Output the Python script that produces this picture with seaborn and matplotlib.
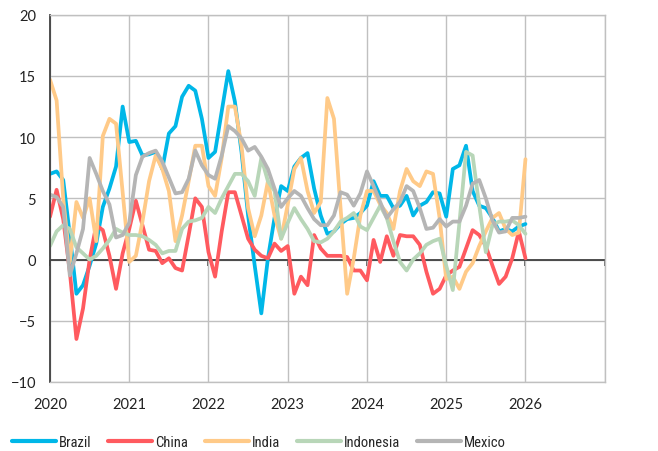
import numpy as np
import pandas as pd
import seaborn as sns
import matplotlib.pyplot as plt

# Monthly values, Jan 2020 - Jan 2026
countries = ['Brazil', 'China', 'India', 'Indonesia', 'Mexico']
colors = ['#00B7E8', '#FF5A5F', '#FFCA88', '#B8D6B8', '#B5B5B5']

brazil = [
    7.0, 7.2, 6.5, 2.0, -2.8, -2.1, -0.5, 1.3, 4.3, 5.8, 7.6, 12.5,
    9.6, 9.7, 8.5, 8.6, 8.8, 7.4, 10.3, 10.9, 13.3, 14.2, 13.8, 11.5,
    8.3, 8.8, 12.1, 15.4, 12.9, 8.8, 3.6, -0.5, -4.4, 0.1, 3.4, 6.0,
    5.6, 7.6, 8.3, 8.7, 5.8, 3.6, 2.1, 2.3, 2.9, 3.3, 3.4, 3.8,
    4.4, 6.4, 5.2, 5.2, 4.2, 4.4, 5.2, 3.6, 4.4, 4.7, 5.5, 5.4,
    3.5, 7.4, 7.7, 9.3, 5.6, 4.4, 4.2, 3.4, 2.3, 2.5, 2.3, 2.7,
    2.9]
china = [
    3.5, 5.7, 3.3, -1.0, -6.5, -4.0, 0.0, 2.8, 2.4, 0.3, -2.4, 0.5,
    2.5, 4.8, 2.8, 0.8, 0.7, -0.3, 0.1, -0.7, -0.9, 2.0, 5.0, 4.3,
    0.6, -1.4, 2.3, 5.5, 5.5, 3.6, 1.7, 0.8, 0.3, 0.1, 1.3, 0.7,
    1.1, -2.8, -1.4, -2.1, 2.0, 0.9, 0.3, 0.3, 0.3, 0.2, -0.9, -0.9,
    -1.7, 1.6, -0.2, 1.9, 0.3, 2.0, 1.9, 1.9, 1.2, -1.0, -2.8, -2.4,
    -1.3, -0.9, -0.6, 0.9, 2.4, 2.0, 1.1, -0.5, -2.0, -1.4, 0.1, 2.3,
    0.1]
india = [
    14.7, 13.0, 5.0, -0.2, 4.7, 3.4, 5.0, 1.5, 10.1, 11.5, 11.1, 5.5,
    -0.2, 0.3, 3.1, 6.4, 8.5, 7.4, 5.6, 1.5, 3.6, 6.4, 9.3, 9.3,
    6.0, 5.2, 8.3, 12.5, 12.5, 9.3, 4.2, 1.9, 3.6, 6.4, 3.6, 1.7,
    4.5, 7.4, 8.3, 5.6, 3.8, 4.7, 13.2, 11.5, 4.2, -2.8, 0.1, 3.6,
    5.6, 5.6, 4.5, 3.8, 2.5, 5.6, 7.4, 6.4, 6.0, 7.2, 7.0, 3.4,
    -1.6, -1.4, -2.4, -1.0, -0.3, 1.1, 2.3, 3.4, 3.8, 2.5, 2.0, 2.2,
    8.2]
indonesia = [
    1.1, 2.3, 2.8, 2.5, 1.0, 0.5, 0.0, 0.3, 0.9, 1.6, 2.5, 2.2,
    2.0, 2.0, 1.9, 1.6, 1.2, 0.5, 0.7, 0.7, 2.5, 3.1, 3.2, 3.4,
    4.3, 3.8, 5.0, 6.0, 7.0, 7.0, 6.4, 5.2, 8.3, 6.4, 5.6, 1.7,
    3.0, 4.2, 3.3, 2.5, 1.5, 1.4, 1.7, 2.3, 3.1, 3.4, 3.8, 2.7,
    2.4, 3.4, 4.4, 3.4, 1.5, -0.2, -0.9, 0.0, 0.5, 1.2, 1.5, 1.7,
    -0.5, -2.5, 3.0, 8.8, 8.5, 4.4, 0.6, 2.8, 3.1, 3.1, 3.2, 2.8,
    2.1]
mexico = [
    5.3, 5.1, 4.3, -1.3, 0.5, 2.5, 8.3, 7.0, 5.6, 4.5, 1.8, 2.0,
    3.0, 6.9, 8.4, 8.7, 8.9, 8.0, 6.7, 5.4, 5.5, 6.6, 8.9, 7.7,
    6.9, 6.6, 8.5, 10.9, 10.5, 9.9, 8.9, 9.2, 8.4, 7.4, 5.8, 4.3,
    5.0, 5.6, 5.2, 4.2, 3.3, 2.8, 2.8, 3.6, 5.5, 5.3, 4.4, 5.4,
    7.2, 6.0, 4.7, 3.4, 4.1, 4.7, 6.0, 5.6, 4.2, 2.5, 2.6, 3.3,
    2.7, 3.1, 3.1, 4.4, 6.2, 6.5, 5.0, 3.2, 2.2, 2.3, 3.4, 3.4,
    3.5]

years = list(range(2020, 2028))
year_labels = ['2020', '2021', '2022', '2023', '2024', '2025', '2026', '']

x = 2020 + np.arange(len(brazil)) / 12
df = pd.DataFrame({'x': x, 'Brazil': brazil, 'China': china, 'India': india,
                   'Indonesia': indonesia, 'Mexico': mexico})
long = df.melt(id_vars='x', var_name='country', value_name='value')

sns.set_style('white')
plt.rcParams['font.family'] = ['Lato', 'DejaVu Sans']

fig = plt.figure(figsize=(6.58, 4.52), dpi=100)
ax = fig.add_axes([0.076, 0.153, 0.843, 0.812])

sns.lineplot(data=long, x='x', y='value', hue='country', hue_order=countries,
             palette=dict(zip(countries, colors)), linewidth=2.7, ax=ax, legend=False)

grid = '#C0C0C0'
ax.set_xlim(2020, 2027)
ax.set_ylim(-10, 20)
ax.set_yticks(range(-10, 21, 5))
ax.set_xticks(years)
ax.set_xticklabels(year_labels)
ax.grid(True, color=grid, linewidth=1)
ax.set_axisbelow(True)
ax.set_xlabel('')
ax.set_ylabel('')

for side in ['top', 'right', 'bottom']:
    ax.spines[side].set_color(grid)
    ax.spines[side].set_linewidth(1)
ax.spines['left'].set_color('#404040')
ax.spines['left'].set_linewidth(1.3)

ax.tick_params(axis='y', direction='out', length=4, width=1, color='#404040',
               labelsize=10.5, labelcolor='#222222', pad=6)
ax.tick_params(axis='x', length=0, labelsize=10.5, labelcolor='#222222', pad=11)

# zero line with year ticks
ax.axhline(0, color='#404040', linewidth=1.3, zorder=1.5)
sec = ax.secondary_xaxis(1/3)
sec.set_xticks(years)
sec.set_xticklabels([])
sec.tick_params(direction='out', length=4, width=1.2, color='#404040')
sec.spines['bottom'].set_visible(False)
sec.spines['top'].set_visible(False)

handles = [plt.Line2D([], [], color=c, linewidth=3) for c in colors]
fig.legend(handles, countries, loc='lower left', ncol=5, frameon=False,
           bbox_to_anchor=(0.018, 0.004), borderpad=0, borderaxespad=0,
           handlelength=3.0, handletextpad=0.22, columnspacing=1.15,
           prop={'family': ['Liberation Sans Narrow', 'Roboto Condensed', 'Lato'], 'size': 10.5})

fig.savefig('out.png', dpi=100)
